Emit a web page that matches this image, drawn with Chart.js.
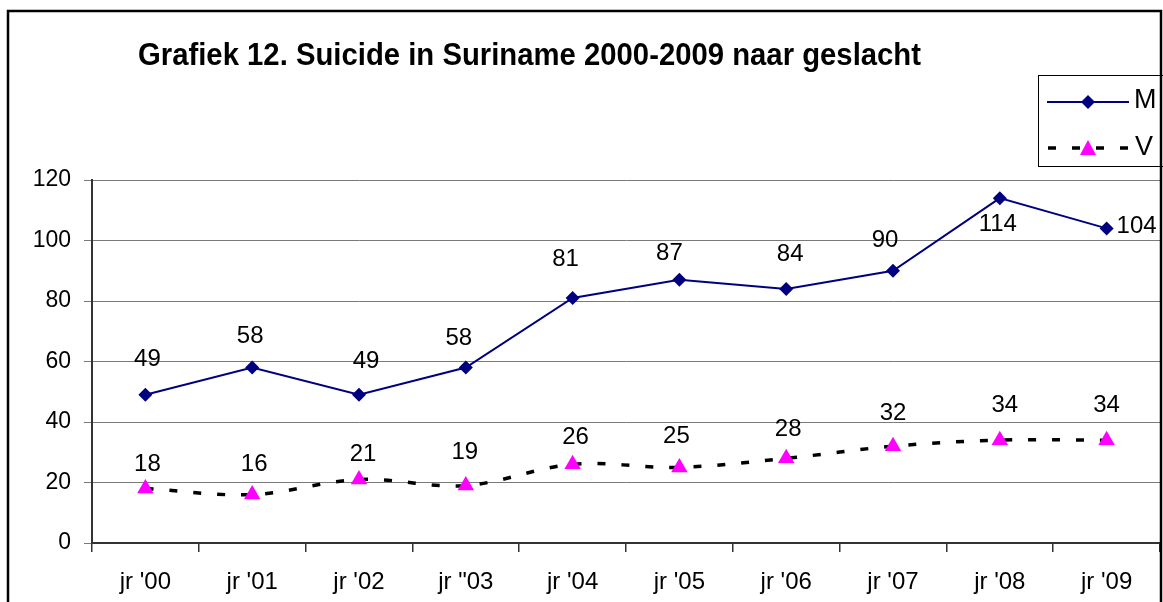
<!DOCTYPE html>
<html>
<head>
<meta charset="utf-8">
<script src="https://cdn.jsdelivr.net/npm/chart.js@4.4.0/dist/chart.umd.min.js"></script>
<style>
body { margin: 0; background: #fff; }
</style>
</head>
<body>
<canvas id="grafiek12" width="1163" height="602"></canvas>
<script>
const jaren = ["jr '00", "jr '01", "jr '02", 'jr "03', "jr '04", "jr '05", "jr '06", "jr '07", "jr '08", "jr '09"];
const mannen = [49, 58, 49, 58, 81, 87, 84, 90, 114, 104];
const vrouwen = [18, 16, 21, 19, 26, 25, 28, 32, 34, 34];
const yTicks = [0, 20, 40, 60, 80, 100, 120];

// where the data labels sit relative to their point (dx, dy)
const offsetsM = [[2,-37],[-2,-33],[7,-35],[-7,-31],[-7,-41],[-10,-28],[4,-36],[-8,-32],[-2,24],[30,-4]];
const offsetsV = [[2,-26],[2,-32],[4,-27],[-1,-35],[3,-29],[-3,-33],[2,-31],[0,-35],[5,-37],[0,-37]];

const FONT = "'Liberation Sans', Arial, sans-serif";

const labelPlugin = {
    id: 'labels',
    afterDatasetsDraw(chart) {
        const ctx = chart.ctx;
        const size = 24;
        ctx.save();
        ctx.font = size + 'px ' + FONT;
        ctx.fillStyle = '#000';
        ctx.textAlign = 'center';
        ctx.textBaseline = 'alphabetic';
        [offsetsM, offsetsV].forEach((offs, d) => {
            const meta = chart.getDatasetMeta(d);
            const vals = chart.data.datasets[d].data;
            meta.data.forEach((pt, i) => {
                ctx.fillText(String(vals[i]), pt.x + offs[i][0], pt.y + offs[i][1] + size * 0.358);
            });
        });
        ctx.restore();
    }
};

const decorPlugin = {
    id: 'decor',
    beforeDraw(chart) {
        const ctx = chart.ctx;
        ctx.save();
        ctx.fillStyle = '#fff';
        ctx.fillRect(0, 0, chart.width, chart.height);
        ctx.restore();
    },
    afterDraw(chart) {
        const ctx = chart.ctx;
        ctx.save();

        // title
        const title = 'Grafiek 12. Suicide in Suriname 2000-2009 naar geslacht';
        ctx.font = 'bold 31px ' + FONT;
        ctx.fillStyle = '#000';
        ctx.textBaseline = 'alphabetic';
        ctx.textAlign = 'left';
        const w = ctx.measureText(title).width;
        ctx.translate(138, 65);
        ctx.scale(783 / w, 1);
        ctx.fillText(title, 0, 0);
        ctx.setTransform(1, 0, 0, 1, 0, 0);

        // legend box
        ctx.strokeStyle = '#000';
        ctx.lineWidth = 1;
        ctx.strokeRect(1038.5, 75.5, 125, 91);

        // M entry
        ctx.strokeStyle = '#000080';
        ctx.lineWidth = 2;
        ctx.beginPath();
        ctx.moveTo(1047, 102);
        ctx.lineTo(1129, 102);
        ctx.stroke();
        ctx.fillStyle = '#000080';
        ctx.beginPath();
        ctx.moveTo(1088, 95); ctx.lineTo(1095, 102); ctx.lineTo(1088, 109); ctx.lineTo(1081, 102);
        ctx.closePath();
        ctx.fill();

        // V entry
        ctx.strokeStyle = '#000';
        ctx.lineWidth = 3.5;
        ctx.setLineDash([8, 16]);
        ctx.beginPath();
        ctx.moveTo(1048, 148);
        ctx.lineTo(1130, 148);
        ctx.stroke();
        ctx.setLineDash([]);
        ctx.fillStyle = '#ff00ff';
        ctx.beginPath();
        ctx.moveTo(1088, 140); ctx.lineTo(1096, 155); ctx.lineTo(1080, 155);
        ctx.closePath();
        ctx.fill();

        ctx.fillStyle = '#000';
        ctx.font = '27px ' + FONT;
        ctx.fillText('M', 1134, 108);
        ctx.fillText('V', 1135, 155);

        // outer frame
        ctx.strokeStyle = '#000';
        ctx.lineWidth = 2.5;
        ctx.strokeRect(8, 11, 1153, 620);
        ctx.restore();
    }
};

new Chart(document.getElementById('grafiek12'), {
    type: 'line',
    data: {
        labels: jaren,
        datasets: [{
            label: 'M',
            data: mannen,
            borderColor: '#000080',
            backgroundColor: '#000080',
            borderWidth: 2,
            pointStyle: 'rectRot',
            pointRadius: 7,
            pointBorderWidth: 0,
            tension: 0
        }, {
            label: 'V',
            data: vrouwen,
            borderColor: '#000',
            backgroundColor: '#ff00ff',
            borderWidth: 3.5,
            borderDash: [8, 16],
            pointStyle: 'triangle',
            pointRadius: 9.5,
            pointBorderWidth: 0,
            tension: 0.35
        }]
    },
    options: {
        responsive: false,
        animation: false,
        devicePixelRatio: 1,
        layout: { autoPadding: false, padding: { left: 0, top: 180, right: 3, bottom: 0 } },
        plugins: {
            legend: { display: false },
            tooltip: { enabled: false }
        },
        scales: {
            x: {
                offset: true,
                afterFit(scale) {
                    scale.height = 59;
                    scale.paddingLeft = 0;
                    scale.paddingRight = 0;
                },
                grid: { offset: true, drawOnChartArea: false, tickLength: 9, color: '#333', lineWidth: 1.5 },
                border: { color: '#333', width: 2 },
                ticks: { color: '#000', font: { family: FONT, size: 24 }, padding: 16, maxRotation: 0, autoSkip: false }
            },
            y: {
                min: yTicks[0],
                max: yTicks[yTicks.length - 1],
                afterFit(scale) {
                    scale.width = 92;
                    scale.paddingTop = 0;
                    scale.paddingBottom = 0;
                },
                afterBuildTicks(scale) { scale.ticks = yTicks.map(v => ({ value: v })); },
                grid: { color: '#7a7a7a', lineWidth: 1, tickLength: 8 },
                border: { color: '#333', width: 2 },
                ticks: { color: '#000', font: { family: FONT, size: 23 }, padding: 13 }
            }
        }
    },
    plugins: [decorPlugin, labelPlugin]
});
</script>
</body>
</html>
